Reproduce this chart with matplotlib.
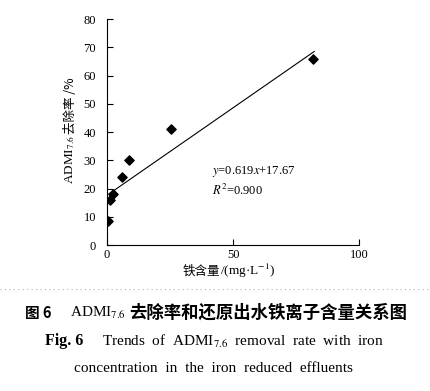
import matplotlib.pyplot as plt
import numpy as np
from matplotlib.lines import Line2D

plt.rcParams['mathtext.fontset'] = 'stix'
serif = ['Liberation Serif', 'DejaVu Serif']
cjk = ['Noto Sans CJK SC', 'DejaVu Sans']

# data
iron = [0.5, 1.0, 2.4, 6.0, 8.6, 25.2, 81.8]
removal = [8.6, 15.9, 18.0, 24.2, 30.3, 41.0, 65.8]
slope, intercept = 0.619, 17.67
xticks = [0, 50, 100]
yticks = [0, 10, 20, 30, 40, 50, 60, 70, 80]

W, H = 430, 391


def fx(px):
    return px / W


def fy(py):
    return 1 - py / H


fig = plt.figure(figsize=(4.30, 3.91), dpi=100)
ax = fig.add_axes([0.249, 0.373, 0.586, 0.578])

ax.scatter(iron, removal, marker='D', s=22, color='black', zorder=3)
xl = np.array([min(iron) + 0.3, max(iron) + 0.4])
ax.plot(xl, slope * xl + intercept, color='black', linewidth=0.8)

ax.set_xlim(0, 100)
ax.set_ylim(0, 80)
ax.set_xticks(xticks)
ax.set_yticks(yticks)
ax.spines['top'].set_visible(False)
ax.spines['right'].set_visible(False)
ax.tick_params(direction='in', length=4, width=0.8, labelsize=9)
ax.tick_params(axis='y', pad=8)
ax.tick_params(axis='x', pad=3)
for lab in ax.get_xticklabels() + ax.get_yticklabels():
    lab.set_family(serif)

ax.text(41.5, 26.2, '$y$=0.619$x$+17.67', fontsize=9, family=serif, va='center')
ax.text(41.5, 19.5, '$R^2$=0.900', fontsize=9, family=serif, va='center')

# y label (rotated, pieces stacked bottom to top)
fig.text(fx(70), fy(184), 'ADMI$_{7.6}$', family=serif, fontsize=9.5,
         rotation=90, ha='center', va='bottom')
fig.text(fx(70), fy(134), '去除率 /%', family=cjk, fontsize=9,
         rotation=90, ha='center', va='bottom')

# x label
fig.text(fx(183), fy(271), '铁含量', family=cjk, fontsize=9, ha='left', va='center')
fig.text(fx(220), fy(271), '/(mg·L$^{-1}$)', family=serif, fontsize=9.5, ha='left', va='center')

# dotted separator
fig.add_artist(Line2D([0.0, 1.0], [fy(289), fy(289)], transform=fig.transFigure,
                      color='#b0b0b0', linestyle=(0, (1, 3)), linewidth=0.8))

# caption
fig.text(fx(25), fy(313), '图 6', family=cjk, fontweight='bold', fontsize=10.5, va='center')
fig.text(fx(70), fy(313), 'ADMI$_{7.6}$', family=serif, fontsize=11, va='center')
fig.text(fx(129), fy(313), '去除率和还原出水铁离子含量关系图', family=cjk,
         fontweight='bold', fontsize=12.5, va='center')
fig.text(fx(45), fy(341), 'Fig. 6', family=serif, fontweight='bold', fontsize=11.5, va='center')
fig.text(fx(102), fy(341), 'Trends  of  ADMI$_{7.6}$  removal  rate  with  iron',
         family=serif, fontsize=11, va='center')
fig.text(fx(213), fy(369), 'concentration  in  the  iron  reduced  effluents',
         family=serif, fontsize=11, va='center', ha='center')

fig.savefig('out.png', dpi=100)
